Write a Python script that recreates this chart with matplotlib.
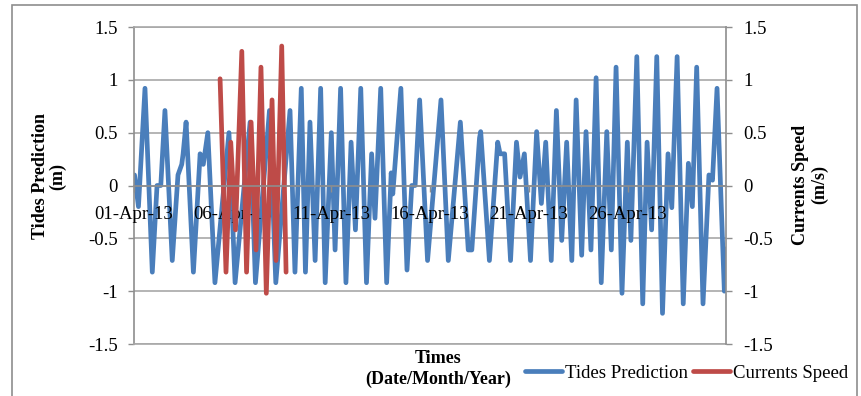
import matplotlib.pyplot as plt
from matplotlib.patches import Rectangle

plt.rcParams['font.family'] = ['Liberation Serif', 'DejaVu Serif']

# time in days after 01-Apr-13 00:00
tide_days = [0.05, 0.25, 0.58, 0.95, 1.19, 1.38, 1.59, 1.96, 2.25, 2.44, 2.51, 2.66,
             3.03, 3.37, 3.53, 3.76, 4.12, 4.83, 5.14, 5.90, 6.17, 6.88, 7.20, 7.92,
             8.17, 8.49, 8.70, 8.93, 9.19, 9.47, 9.70, 10.01, 10.20, 10.48, 10.75,
             11.01, 11.23, 11.50, 11.79, 12.05, 12.22, 12.51, 12.81, 13.04, 13.12,
             13.53, 13.84, 14.08, 14.25, 14.48, 14.88, 15.56, 15.93, 16.54, 16.94,
             17.12, 17.51, 17.57, 18.01, 18.43, 18.55, 18.78, 19.08, 19.38, 19.56,
             19.78, 20.09, 20.40, 20.64, 20.86, 21.14, 21.40, 21.67, 21.92, 22.18,
             22.40, 22.68, 22.90, 23.15, 23.41, 23.67, 23.95, 24.18, 24.42, 24.72,
             24.99, 25.17, 25.47, 25.77, 25.99, 26.22, 26.48, 26.77, 27.05, 27.24,
             27.51, 27.82, 28.08, 28.28, 28.50, 28.82, 29.12, 29.30, 29.53, 29.90, 29.98]
tide_m = [0.10, -0.20, 0.92, -0.82, 0.00, 0.00, 0.71, -0.71, 0.10, 0.20, 0.30, 0.60,
          -0.82, 0.30, 0.20, 0.50, -0.92, 0.50, -0.92, 0.60, -0.92, 0.71, -0.92, 0.71,
          -0.82, 0.92, -0.82, 0.60, -0.71, 0.92, -0.92, 0.50, -0.61, 0.92, -0.92,
          0.41, -0.42, 0.92, -0.92, 0.30, -0.31, 0.92, -0.92, 0.12, -0.08,
          0.92, -0.80, 0.00, 0.00, 0.81, -0.71, 0.81, -0.71, 0.60, -0.61,
          -0.61, 0.45, 0.51, -0.71, 0.41, 0.30, 0.30, -0.71, 0.41, 0.08,
          0.30, -0.71, 0.51, -0.17, 0.41, -0.71, 0.71, -0.52, 0.41, -0.71,
          0.81, -0.66, 0.51, -0.61, 1.02, -0.92, 0.51, -0.61, 1.12, -1.02,
          0.41, -0.52, 1.22, -1.12, 0.41, -0.42, 1.22, -1.21, 0.30, -0.21,
          1.22, -1.12, 0.21, -0.20, 1.12, -1.12, 0.10, 0.05, 0.92, -1.00, -0.60]

current_days = [4.38, 4.68, 4.92, 5.16, 5.48, 5.72, 5.95, 6.20, 6.45, 6.72, 7.01, 7.21, 7.50, 7.72]
current_ms = [1.01, -0.82, 0.41, -0.42, 1.27, -0.82, 0.60, -0.61, 1.12, -1.02, 0.81, -0.71, 1.32, -0.82]

tick_days = [0, 5, 10, 15, 20, 25]
tick_labels = ['01-Apr-13', '06-Apr-13', '11-Apr-13', '16-Apr-13', '21-Apr-13', '26-Apr-13']
y_ticks = [-1.5, -1, -0.5, 0, 0.5, 1, 1.5]

blue = '#4A7EBB'
red = '#BE4B48'
grey = '#8E8E8E'
fs = 13.5

fig = plt.figure(figsize=(8.62, 3.96), dpi=100)
ax = fig.add_axes([0.1549, 0.1313, 0.6877, 0.8005])
ax2 = ax.twinx()

l1, = ax.plot(tide_days, tide_m, color=blue, lw=3.4, solid_joinstyle='round',
              solid_capstyle='round', label='Tides Prediction')
l2, = ax2.plot(current_days, current_ms, color=red, lw=3.4, solid_joinstyle='round',
               solid_capstyle='round', label='Currents Speed')

for a in (ax, ax2):
    a.set_xlim(0, 30)
    a.set_ylim(-1.5, 1.5)
    a.set_yticks(y_ticks)
    a.set_yticklabels([f'{v:g}' for v in y_ticks])

ax.grid(axis='y', color='#A8A8A8', lw=1.2)
ax.set_axisbelow(True)
for s in ax.spines.values():
    s.set_color('#A8A8A8')
    s.set_linewidth(1.2)
ax.spines['left'].set_color(grey)
ax.spines['right'].set_visible(False)
ax.tick_params(axis='y', direction='out', length=4, width=1, color=grey, pad=7.5, labelsize=fs)
ax.tick_params(axis='x', bottom=False, labelbottom=False)

# x axis crosses at zero, drawn on the twin so its labels sit above the red line
ax2.xaxis.set_visible(True)
ax2.spines['top'].set_visible(False)
ax2.spines['left'].set_visible(False)
ax2.spines['right'].set_color(grey)
ax2.spines['right'].set_linewidth(1.2)
ax2.spines['bottom'].set_position(('data', 0))
ax2.spines['bottom'].set_color(grey)
ax2.spines['bottom'].set_linewidth(1.2)
ax2.set_xticks(tick_days)
ax2.set_xticklabels(tick_labels)
ax2.tick_params(axis='x', bottom=True, labelbottom=True, top=False, labeltop=False,
                direction='out', length=4, width=1, color=grey, pad=11, labelsize=fs)
ax2.tick_params(axis='y', direction='out', length=4, width=1, color=grey, pad=8, labelsize=fs)

fig.text(49 / 862, 1 - 176 / 396, 'Tides Prediction\n(m)', rotation=90, ha='center',
         va='center', fontsize=13, fontweight='bold', linespacing=1.05)
fig.text(810 / 862, 1 - 185 / 396, 'Currents Speed\n(m/s)', rotation=90, ha='center',
         va='center', fontsize=13, fontweight='bold', linespacing=1.2)
fig.text(438 / 862, 1 - 369 / 396, 'Times\n(Date/Month/Year)', ha='center', va='center',
         fontsize=13, fontweight='bold', linespacing=1.3)

fig.legend(handles=[l1, l2], loc='center left', bbox_to_anchor=(525 / 862, 1 - 373 / 396),
           ncol=2, frameon=False, fontsize=fs, handlelength=1.95, handletextpad=0.2,
           columnspacing=0.25, borderaxespad=0, borderpad=0)

fig.patches.append(Rectangle((12 / 862, -0.05), 845 / 862, 1 - 5 / 396 + 0.05,
                             transform=fig.transFigure, fill=False, edgecolor=grey, lw=1.2))

fig.savefig('out.png', dpi=100)
